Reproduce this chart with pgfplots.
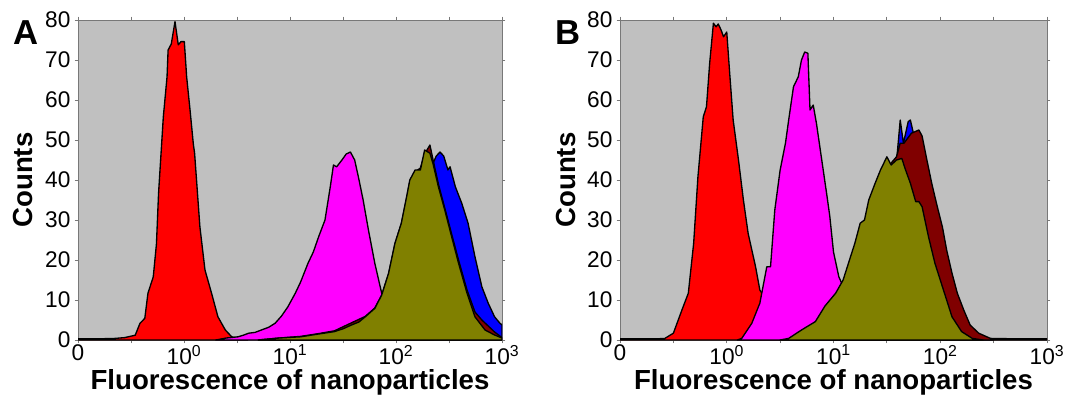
\documentclass[border=0pt]{standalone}
\usepackage{pgfplots}
\pgfplotsset{compat=1.18}
\usepackage{fontspec}
\setmainfont{Liberation Sans}
\definecolor{bggray}{RGB}{192,192,192}
\definecolor{olivec}{RGB}{128,128,0}
\definecolor{darkredc}{RGB}{128,0,0}
\definecolor{magc}{RGB}{255,0,255}
\definecolor{redc}{RGB}{255,0,0}
\definecolor{bluec}{RGB}{0,0,255}
\definecolor{axgray}{RGB}{120,120,120}

\pgfplotsset{
  histax/.style={
    scale only axis, height=240pt,
    xmin=-1, xmax=3, ymin=0, ymax=80,
    axis background/.style={fill=bggray},
    axis line style={draw=axgray, line width=0.6pt},
    tick style={draw=axgray, line width=0.6pt},
    tick align=outside, major tick length=2.5pt,
    xtick={-1,-0.5,0,0.5,1,1.5,2,2.5,3},
    xticklabels={0,,10\textsuperscript{0},,10\textsuperscript{1},,10\textsuperscript{2},,10\textsuperscript{3}},
    ytick={0,10,20,30,40,50,60,70,80},
    /pgf/number format/assume math mode=true,
    ticklabel style={font=\fontsize{17}{20}\selectfont},
    xticklabel style={anchor=north, inner sep=0pt, yshift=-1pt},
    yticklabel style={anchor=east, inner sep=0pt, xshift=-3pt},
    xlabel={Fluorescence of nanoparticles},
    ylabel={Counts},
    label style={font=\bfseries\fontsize{20.7}{24}\selectfont, inner sep=0pt},
    xlabel style={at={([yshift=-37pt]axis description cs:0.5,0)}, anchor=base},
    ylabel style={at={([xshift=-33.75pt]axis description cs:0,0.5)}, anchor=base},
    every axis plot/.append style={draw=black, line width=1pt, line join=round},
  },
}

\begin{document}
\begin{tikzpicture}
\path[use as bounding box] (0,0) rectangle (800.25pt,297.75pt);

% ---------------- Panel A ----------------
\begin{axis}[histax, width=318pt, at={(58.5pt,42.75pt)}, anchor=south west]
\addplot[fill=redc] table {
-1.00 0.3
-0.80 0.3
-0.65 0.4
-0.56 0.6
-0.46 1.2
-0.415 4.2
-0.37 5.4
-0.34 11.7
-0.29 15.8
-0.26 24
-0.24 36.7
-0.195 55.8
-0.16 65.8
-0.15 72.5
-0.12 74
-0.085 79.6
-0.054 73.8
-0.028 74.6
0.003 74.6
0.025 65.8
0.057 57.5
0.088 49
0.10 46.7
0.15 28.3
0.198 17.5
0.26 11.7
0.32 5.8
0.39 2.5
0.45 0.8
0.51 0.3
0.60 0
} \closedcycle;
\addplot[fill=magc] table {
0.30 0.0
0.40 0.5
0.51 0.8
0.56 1.2
0.61 1.7
0.67 1.9
0.73 2.5
0.80 3.2
0.86 4.2
0.92 6.0
0.98 8.3
1.05 11.7
1.10 14.5
1.17 19.2
1.22 22
1.27 25.8
1.33 30
1.38 38.3
1.41 43.75
1.44 43.3
1.49 45
1.53 46.5
1.57 47
1.61 45
1.645 40.8
1.69 35
1.74 27.5
1.80 19.2
1.865 11.7
1.95 5
2.05 2
2.20 0.5
2.35 0
} \closedcycle;
\addplot[fill=bluec] table {
0.80 0
1.10 0.4
1.40 1.2
1.60 2.5
1.80 5
1.95 10
2.05 18
2.15 28
2.25 37
2.33 43
2.38 46
2.415 47
2.45 46
2.49 42.5
2.51 43.3
2.56 38.3
2.62 34.2
2.68 29.2
2.745 20.8
2.81 13.3
2.87 9.2
2.93 5.8
2.98 4.2
3.00 3.8
} \closedcycle;
\addplot[fill=darkredc] table {
0.70 0
0.90 0.5
1.10 0.9
1.27 1.6
1.42 2.3
1.58 4.3
1.71 5.9
1.80 8.0
1.865 11.2
1.93 16.5
1.99 24
2.05 29
2.10 35.5
2.13 39.5
2.18 42
2.23 43
2.27 46.5
2.32 48.75
2.35 45
2.40 39
2.46 33
2.525 26.5
2.59 20
2.67 12.5
2.745 7
2.81 5
2.87 3.5
2.93 2
3.00 0.6
} \closedcycle;
\addplot[fill=olivec] table {
0.70 0
0.90 0.5
1.10 0.8
1.27 1.5
1.42 2.1
1.50 2.8
1.58 3.75
1.65 4.5
1.71 5.8
1.80 7.9
1.865 11.25
1.93 16.7
1.99 24.2
2.05 29.2
2.10 35.8
2.13 40
2.18 42.5
2.23 42.5
2.27 47.5
2.32 46.7
2.35 44
2.40 38.3
2.46 32.5
2.525 25.8
2.59 19.2
2.67 11.7
2.745 5.8
2.84 2.5
2.93 1.25
3.00 0.5
} \closedcycle;
\end{axis}

% ---------------- Panel B ----------------
\begin{axis}[histax, width=320.25pt, at={(465pt,42.75pt)}, anchor=south west]
\addplot[fill=redc] table {
-1.00 0.3
-0.80 0.3
-0.65 0.3
-0.58 0.4
-0.50 1.7
-0.42 7.5
-0.36 11.7
-0.31 24.2
-0.27 40.8
-0.22 55.8
-0.19 58.3
-0.16 69.2
-0.125 79.2
-0.10 78.3
-0.08 79
-0.053 77.5
-0.03 75.8
0.00 77
0.03 65.8
0.06 55
0.11 45
0.156 35
0.20 26.7
0.27 18.3
0.31 12.5
0.34 11.2
0.45 4
0.60 0.5
0.70 0
} \closedcycle;
\addplot[fill=magc] table {
0.10 0
0.14 0.4
0.235 4.2
0.31 9.2
0.375 18.3
0.41 18.3
0.45 32.5
0.50 42.5
0.55 49.2
0.58 55
0.625 63.3
0.67 65.8
0.70 70
0.73 72
0.76 71.7
0.78 57.5
0.81 58.75
0.84 54.2
0.89 45
0.94 35.8
0.965 31
1.00 22
1.05 15.8
1.08 14
1.15 7
1.25 3
1.40 0.5
1.50 0
} \closedcycle;
\addplot[fill=bluec] table {
0.70 0
0.90 2
1.10 7
1.30 24
1.50 42
1.59 44.5
1.625 55
1.655 49.2
1.70 54.6
1.72 55
1.75 51.5
1.78 50.5
1.90 40
2.00 28
2.10 15
2.20 7
2.30 2.5
2.40 0.5
2.50 0
} \closedcycle;
\addplot[fill=darkredc] table {
0.65 0
0.80 1.5
0.95 5
1.10 11
1.30 27
1.50 43
1.59 45.8
1.625 49.2
1.66 49.2
1.73 51.7
1.80 52.5
1.83 51
1.875 45
1.92 39.2
1.95 35.8
1.98 32.5
2.02 28.3
2.06 22.5
2.11 16.7
2.16 11.7
2.22 7.5
2.28 3.75
2.36 1.7
2.47 0.4
2.70 0.3
3.00 0.3
} \closedcycle;
\addplot[fill=olivec] table {
0.50 0
0.58 0.4
0.70 2.5
0.83 4.6
0.92 8.5
1.02 11.7
1.09 15
1.14 19.2
1.20 24.2
1.25 29.2
1.29 30
1.33 35
1.39 39.2
1.44 42.5
1.50 45.8
1.54 43.75
1.59 45
1.64 45.4
1.67 42.9
1.72 39.2
1.77 34.6
1.80 34.6
1.83 33.3
1.89 25.8
1.95 19.2
2.03 12.5
2.11 5.8
2.20 2.1
2.30 0.4
2.40 0
} \closedcycle;
\end{axis}

\node[font=\bfseries\fontsize{26}{30}\selectfont, inner sep=0pt] at (19.5pt,273pt) {A};
\node[font=\bfseries\fontsize{26}{30}\selectfont, inner sep=0pt] at (426pt,273pt) {B};
\end{tikzpicture}
\end{document}
